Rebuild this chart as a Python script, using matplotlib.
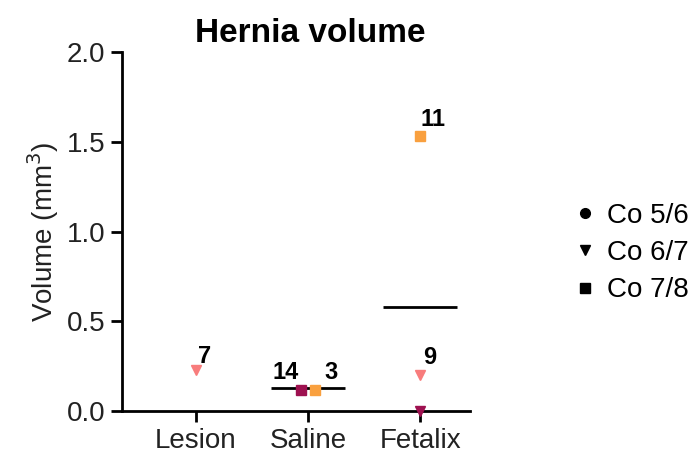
import matplotlib.pyplot as plt
import numpy as np

plt.rcParams['font.family'] = ['Liberation Sans', 'DejaVu Sans']

groups = ["Lesion", "Saline", "Fetalix"]

# each point: group index, value, vertebra level, colour, label
pt_group = [0, 1, 1, 2, 2, 2]
pt_value = [0.23, 0.12, 0.12, 1.53, 0.20, 0.0]
pt_level = ["Co 6/7", "Co 7/8", "Co 7/8", "Co 7/8", "Co 6/7", "Co 6/7"]
pt_color = ["#F87C7C", "#9E1150", "#F9A03F", "#F9A03F", "#F87C7C", "#9E1150"]
pt_label = ["7", "14", "3", "11", "9", ""]
pt_jitter = [0.0, -0.062, 0.062, 0.0, 0.0, 0.0]

# group means (no line for Lesion)
mean_group = [1, 2]
mean_value = [0.13, 0.58]

levels = ["Co 5/6", "Co 6/7", "Co 7/8"]
level_marker = {"Co 5/6": "o", "Co 6/7": "v", "Co 7/8": "s"}

fig = plt.figure(figsize=(6.97, 4.61), dpi=100)
ax = fig.add_axes([0.175, 0.108, 0.499, 0.779])

for g, m in zip(mean_group, mean_value):
    ax.plot([g - 0.33, g + 0.33], [m, m], color="black", lw=2, zorder=2, solid_capstyle="butt")

# label offsets in points (centre of text relative to marker)
label_off = {"7": (6, 10), "14": (-11, 12.5), "3": (11.5, 12.5), "11": (9, 12.5), "9": (6.5, 13)}
for g, v, lv, c, lab, j in zip(pt_group, pt_value, pt_level, pt_color, pt_label, pt_jitter):
    ax.plot(g + j, v, marker=level_marker[lv], color=c, ms=6.5, ls="none",
            zorder=3, clip_on=False)
    if lab:
        ax.annotate(lab, (g + j, v), xytext=label_off[lab], textcoords="offset points",
                    fontsize=17, fontweight="bold", ha="center", va="center")

for lv in levels:
    ax.plot([], [], marker=level_marker[lv], color="black", ls="none", ms=7, label=lv)
ax.legend(loc="center left", bbox_to_anchor=(1.29, 0.44), frameon=False,
          fontsize=20, handletextpad=0.3, labelspacing=0.4, handlelength=1,
          borderpad=0, borderaxespad=0)

ax.set_xlim(-0.66, 2.44)
ax.set_ylim(0, 2.0)
ax.set_xticks(range(len(groups)))
ax.set_xticklabels(groups)
ax.set_yticks(np.arange(0, 2.01, 0.5))
ax.set_yticklabels([f"{t:.1f}" for t in np.arange(0, 2.01, 0.5)])
ax.tick_params(labelsize=20, width=2, length=8, color="black", labelcolor="#222222", pad=4)
for s in ["top", "right"]:
    ax.spines[s].set_visible(False)
for s in ["left", "bottom"]:
    ax.spines[s].set_linewidth(2)

ax.set_ylabel("Volume (mm$^3$)", fontsize=20, color="#222222", labelpad=4)
ax.set_title("Hernia volume", fontsize=24, fontweight="bold", pad=7, x=0.54)

fig.savefig("out.png", dpi=100)
